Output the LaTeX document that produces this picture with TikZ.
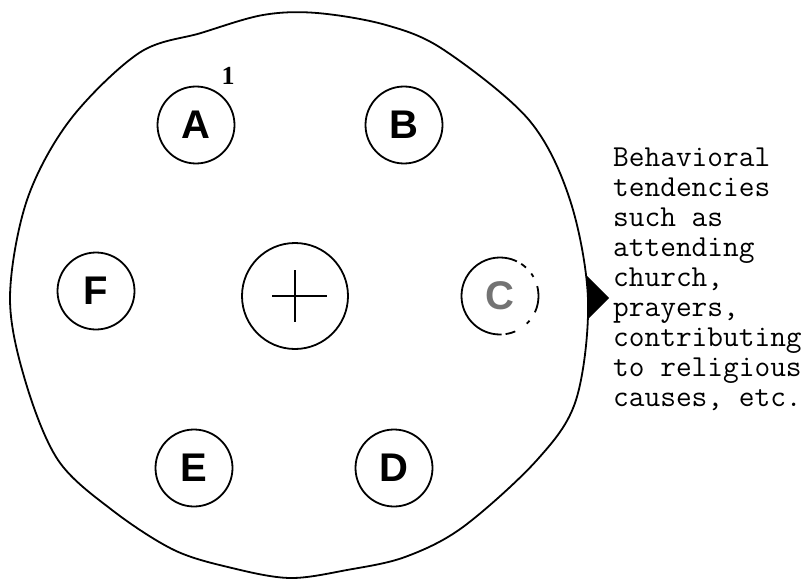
\documentclass[tikz,border=0pt]{standalone}
\usepackage{fontspec}
\setmainfont{Liberation Serif}
\setsansfont{Liberation Sans}
\begin{document}
\begin{tikzpicture}[x=1pt, y=-1pt,
  outline/.style={line width=1.8pt, line join=round},
  ring/.style={draw, line width=1.8pt, circle, minimum size=77pt, inner sep=0pt,
    font=\sffamily\bfseries\fontsize{40}{40}\selectfont},
  hub/.style={draw, line width=1.8pt, circle, minimum size=106pt, inner sep=0pt},
  note/.style={font=\ttfamily\fontsize{30.5}{30}\selectfont, align=left, inner sep=0pt},
  mark1/.style={font=\rmfamily\bfseries\fontsize{26}{26}\selectfont, inner sep=0pt}]
\useasboundingbox (0,0) rectangle (805,580);

% outer, hand-drawn boundary
\draw[outline] plot[smooth cycle, tension=0.55] coordinates {
  (317,13) (386,25) (444,50) (529,120) (570,200) (588,300) (576,400)
  (537,460) (463,527) (405,557) (347,570) (290,578) (232,568) (174,550)
  (112,510) (58,460) (25,380) (10,297) (27,200) (70,120) (139,53)
  (201,33) (263,15)};

% inner components
\node[ring] (A) at (196,125) {A};
\node[ring] (B) at (404,125) {B};
\node[ring] (F) at (96,291) {F};
\node[ring, draw=none, text=black!55] (C) at (500,296) {C};
\draw[line width=1.8pt, dash pattern=on 10pt off 10pt on 4pt off 8pt on 6pt off 5pt on 140pt off 4pt on 10pt off 14pt on 4pt off 10pt on 21pt]
  (C.center) circle[radius=38.5pt];
\node[ring] (E) at (194,468) {E};
\node[ring] (D) at (394,468) {D};
\node[mark1] (one) at (228,76) {1};

% central element with cross
\node[hub] (hub) at (295,296) {};
\draw[line width=1.6pt] ([xshift=-23pt]hub.center) -- ([xshift=32pt]hub.center);
\draw[line width=1.6pt] ([yshift=26pt]hub.center) -- ([yshift=-26pt]hub.center);

% output arrow and description
\coordinate (abase) at (587,298);
\coordinate (atip) at (609,298);
\fill (abase) ++(0,-22) -- (atip) -- ++(-22,22) -- cycle;
\node[note, anchor=north west] (txt) at (613,148) {Behavioral\\tendencies\\such as\\attending\\church,\\prayers,\\contributing\\to religious\\causes, etc.};
\end{tikzpicture}
\end{document}
